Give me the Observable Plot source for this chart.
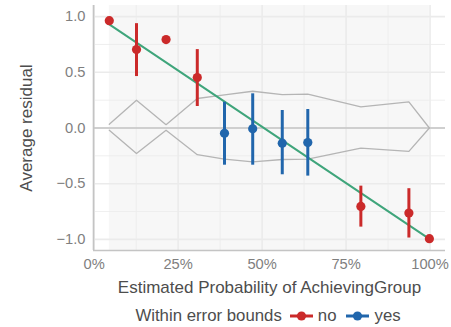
<!DOCTYPE html>
<html>
<head>
<meta charset="utf-8">
<script src="https://cdn.jsdelivr.net/npm/d3@7"></script>
<script src="https://cdn.jsdelivr.net/npm/@observablehq/plot@0.6"></script>
<style>
  html, body { margin: 0; padding: 0; background: #fff; }
  body { width: 451px; height: 327px; overflow: hidden; font-family: "Liberation Sans", Arial, Helvetica, sans-serif; }
  #legend { display: flex; justify-content: center; align-items: center; padding-left: 87px; padding-top: 5px; height: 22px; font-size: 16.8px; color: #4d4d4d; }
  #legend .key { display: inline-block; margin: 0 5px 0 8px; }
  #legend .lab { margin-right: 2px; }
</style>
</head>
<body>
<div id="chart"></div>
<div id="legend"></div>
<script>
// ---- data ----
const binX     = [0.045, 0.126, 0.214, 0.307, 0.388, 0.472, 0.560, 0.636, 0.794, 0.937, 0.998];
const residual = [0.964, 0.704, 0.794, 0.453, -0.047, -0.007, -0.136, -0.130, -0.704, -0.764, -0.994];
const errLow   = [null, 0.462, null, 0.193, -0.334, -0.334, -0.420, -0.432, -0.890, -0.988, null];
const errHigh  = [null, 0.937, null, 0.704, 0.231, 0.307, 0.157, 0.166, -0.522, -0.545, null];
const within   = ["no", "no", "no", "no", "yes", "yes", "yes", "yes", "no", "no", "no"];
const boundUpper = [0.033, 0.25, 0.03, 0.265, 0.297, 0.33, 0.30, 0.305, 0.19, 0.235, 0.0];
const boundLower = [-0.02, -0.23, -0.02, -0.24, -0.28, -0.305, -0.283, -0.28, -0.18, -0.21, 0.0];
const fitX = [0.045, 1.0];
const fitY = [0.93, -1.0];
const xTicks = [0, 0.25, 0.5, 0.75, 1];
const xMinor = [0.125, 0.375, 0.625, 0.875];
const yTicks = [-1, -0.5, 0, 0.5, 1];
const yMinor = [-0.75, -0.25, 0.25, 0.75];
const groups = ["no", "yes"];
const groupColors = ["#cb2a2a", "#2166ac"];

// ---- build ----
const pts = binX.map((x, i) => ({x, y: residual[i], lo: errLow[i], hi: errHigh[i], g: within[i], up: boundUpper[i], dn: boundLower[i]}));
const bars = pts.filter(d => d.lo != null);
const fit = fitX.map((x, i) => ({x, y: fitY[i]}));
const xDomain = [-0.002, 1.046];
const yDomain = [-1.1, 1.1];
const gridColor = "#ebebeb";

const chart = Plot.plot({
  width: 451,
  height: 300,
  marginLeft: 93,
  marginRight: 6,
  marginTop: 5,
  marginBottom: 50,
  style: {fontFamily: '"Liberation Sans", Arial, Helvetica, sans-serif', background: "#fff"},
  x: {domain: xDomain},
  y: {domain: yDomain},
  color: {domain: groups, range: groupColors},
  marks: [
    Plot.rect([0], {x1: () => d3.min(binX), x2: () => d3.max(binX), fill: "#f7f7f7"}),
    Plot.ruleX(xMinor, {stroke: gridColor, strokeWidth: 0.8}),
    Plot.ruleY(yMinor, {stroke: gridColor, strokeWidth: 0.8}),
    Plot.ruleX(xTicks, {stroke: gridColor, strokeWidth: 1.6}),
    Plot.ruleY(yTicks, {stroke: gridColor, strokeWidth: 1.6}),
    Plot.ruleY([0], {stroke: "#c4c4c4", strokeWidth: 1.6}),
    Plot.ruleX([xDomain[0]], {stroke: "#c4c4c4", strokeWidth: 1.6}),
    Plot.ruleY([yDomain[0]], {stroke: "#c4c4c4", strokeWidth: 1.6}),
    Plot.line(pts, {x: "x", y: "up", stroke: "#b5b5b5", strokeWidth: 1.3}),
    Plot.line(pts, {x: "x", y: "dn", stroke: "#b5b5b5", strokeWidth: 1.3}),
    Plot.line(fit, {x: "x", y: "y", stroke: "#3fa57b", strokeWidth: 2}),
    Plot.ruleX(bars, {x: "x", y1: "lo", y2: "hi", stroke: "g", strokeWidth: 3}),
    Plot.dot(pts, {x: "x", y: "y", fill: "g", r: 4.6}),
    Plot.axisX(xTicks, {tickSize: 0, tickPadding: 8, tickFormat: d3.format(".0%"), fontSize: 14.7, fill: "#7f7f7f",
      label: "Estimated Probability of AchievingGroup", labelAnchor: "center", labelArrow: "none", labelOffset: 42}),
    Plot.axisY(yTicks, {tickSize: 0, tickPadding: 8, tickFormat: d3.format(".1f"), fontSize: 14.7, fill: "#7f7f7f",
      label: "Average residual", labelAnchor: "center", labelArrow: "none", labelOffset: 74})
  ]
});
// color axis titles darker
chart.querySelectorAll('g[aria-label="x-axis label"] text, g[aria-label="y-axis label"] text').forEach(t => {
  t.setAttribute("fill", "#4d4d4d");
  t.style.fontSize = "17px";
});
document.getElementById("chart").appendChild(chart);

// ---- legend ----
const leg = document.getElementById("legend");
const title = document.createElement("span");
title.textContent = "Within error bounds";
leg.appendChild(title);
groups.forEach((g, i) => {
  const ns = "http://www.w3.org/2000/svg";
  const s = document.createElementNS(ns, "svg");
  s.setAttribute("width", 23); s.setAttribute("height", 12);
  s.setAttribute("class", "key");
  const l = document.createElementNS(ns, "line");
  l.setAttribute("x1", 0); l.setAttribute("x2", 23); l.setAttribute("y1", 6); l.setAttribute("y2", 6);
  l.setAttribute("stroke", groupColors[i]); l.setAttribute("stroke-width", 3);
  const c = document.createElementNS(ns, "circle");
  c.setAttribute("cx", 11.5); c.setAttribute("cy", 6); c.setAttribute("r", 4.6);
  c.setAttribute("fill", groupColors[i]);
  s.appendChild(l); s.appendChild(c);
  leg.appendChild(s);
  const lab = document.createElement("span");
  lab.className = "lab";
  lab.textContent = g;
  leg.appendChild(lab);
});
</script>
</body>
</html>
